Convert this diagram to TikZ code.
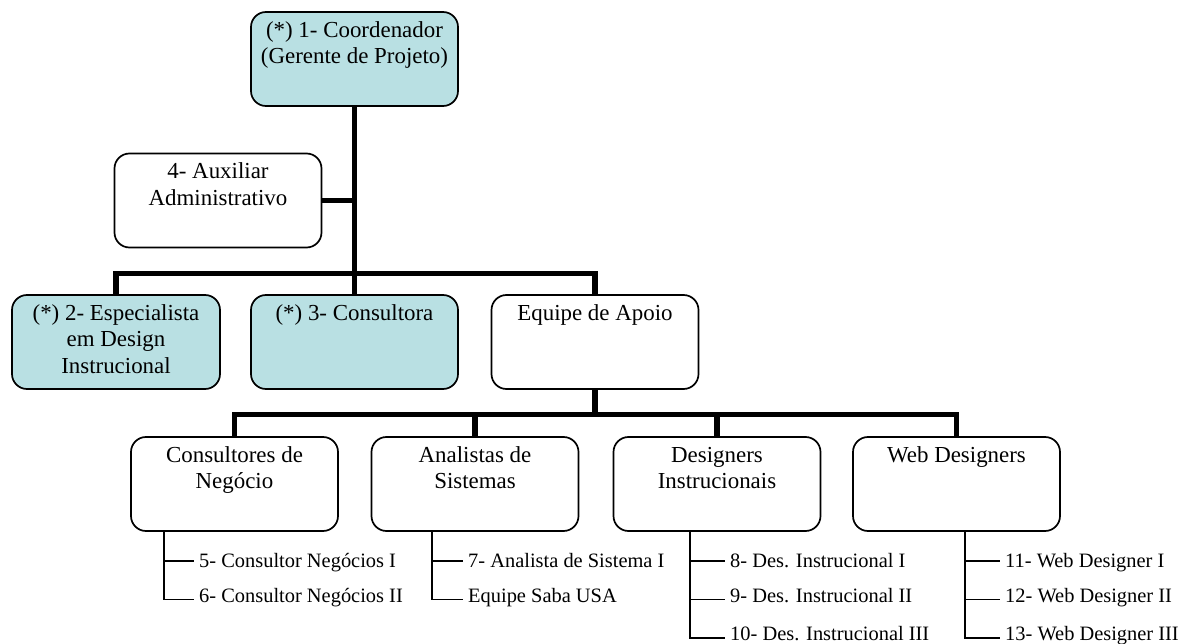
\documentclass[tikz,border=0pt]{standalone}
\usepackage{fontspec}
\setmainfont{Liberation Serif}
\usetikzlibrary{calc}
\definecolor{boxblue}{RGB}{185,224,227}
% box text: lines hang from the top of the box
\newcommand{\boxlines}[1]{\parbox[c][94bp][t]{200bp}{\centering\rule{0pt}{25.5bp}#1\par}}
\begin{document}
\begin{tikzpicture}[x=1bp,y=-1bp,
  orgbox/.style={draw=black, line width=1.7bp, rounded corners=15bp, fill=white,
    inner sep=0pt, minimum width=207bp, minimum height=94bp,
    font=\fontsize{23}{26.5}\selectfont},
  keybox/.style={orgbox, fill=boxblue},
  trunk/.style={line width=5.5bp},
  twig/.style={line width=1.8bp},
  leaf/.style={anchor=west, inner xsep=5bp, inner ysep=0pt, text height=14bp,
    text depth=2bp, font=\fontsize{20.5}{24}\selectfont},
  % the text rows sit a little higher on the lower branches
  leafmid/.style={leaf, text height=10bp, text depth=4bp},
  leaflow/.style={leaf, text height=9bp, text depth=4bp}]
\useasboundingbox (0,0) rectangle (1191,644);

% upper levels
\node[keybox] (coord) at (354.5,59) {\boxlines{(*) 1- Coordenador\\(Gerente de Projeto)}};
\node[orgbox] (aux) at (218,200.5) {\boxlines{4- Auxiliar\\Administrativo}};
\node[keybox, minimum width=208bp] (esp) at (116,342) {\boxlines{(*) 2- Especialista\\em Design\\Instrucional}};
\node[keybox] (cons3) at (354.5,342) {\boxlines{(*) 3- Consultora}};
\node[orgbox] (apoio) at (595,342) {\boxlines{Equipe de Apoio}};

% support team groups
\node[orgbox] (neg) at (234.5,484) {\boxlines{Consultores de\\Neg\'ocio}};
\node[orgbox] (anal) at (475,484) {\boxlines{Analistas de\\Sistemas}};
\node[orgbox] (desi) at (717,484) {\boxlines{Designers\\Instrucionais}};
\node[orgbox] (web) at (956.5,484) {\boxlines{Web Designers}};

% leaf entries
\node[leaf] (l5) at (194,561) {5- Consultor Negócios I};
\node[leafmid] (l6) at (194,599.5) {6- Consultor Negócios II};
\node[leaf] (l7) at (463,561) {7- Analista de Sistema I};
\node[leafmid] (lsaba) at (463,599.5) {Equipe Saba USA};
\node[leaf] (l8) at (725,561) {8- Des. Instrucional I};
\node[leafmid] (l9) at (725,599.5) {9- Des. Instrucional II};
\node[leaflow] (l10) at (725,638) {10- Des. Instrucional III};
\node[leaf] (l11) at (1000,561) {11- Web Designer I};
\node[leafmid] (l12) at (1000,599.5) {12- Web Designer II};
\node[leaflow] (l13) at (1000,638) {13- Web Designer III};

% main connectors
\coordinate (j1) at (354.5,273.5);
\coordinate (j2) at (595,414.5);
\draw[trunk] (coord.south) -- (cons3.north);
\draw[trunk] (aux.east) -- (aux.east -| coord.south);
\draw[trunk] (esp.north) |- (j1) -| (apoio.north);
\draw[trunk] (apoio.south) -- (j2);
\draw[trunk] (neg.north) |- (j2) -| (web.north);
\draw[trunk] (j2 -| anal.north) -- (anal.north);
\draw[trunk] (j2 -| desi.north) -- (desi.north);

% leaf connectors
\coordinate (cn) at ([xshift=-70.5bp]neg.south);
\coordinate (ca) at ([xshift=-43bp]anal.south);
\coordinate (cd) at ([xshift=-27bp]desi.south);
\coordinate (cw) at ([xshift=8.5bp]web.south);
\draw[twig] (cn) |- (l6.west);
\draw[twig] (cn |- l5.west) -- (l5.west);
\draw[twig] (ca) |- (lsaba.west);
\draw[twig] (ca |- l7.west) -- (l7.west);
\draw[twig] (cd) |- (l10.west);
\draw[twig] (cd |- l8.west) -- (l8.west);
\draw[twig] (cd |- l9.west) -- (l9.west);
\draw[twig] (cw) |- (l13.west);
\draw[twig] (cw |- l11.west) -- (l11.west);
\draw[twig] (cw |- l12.west) -- (l12.west);
\end{tikzpicture}
\end{document}
